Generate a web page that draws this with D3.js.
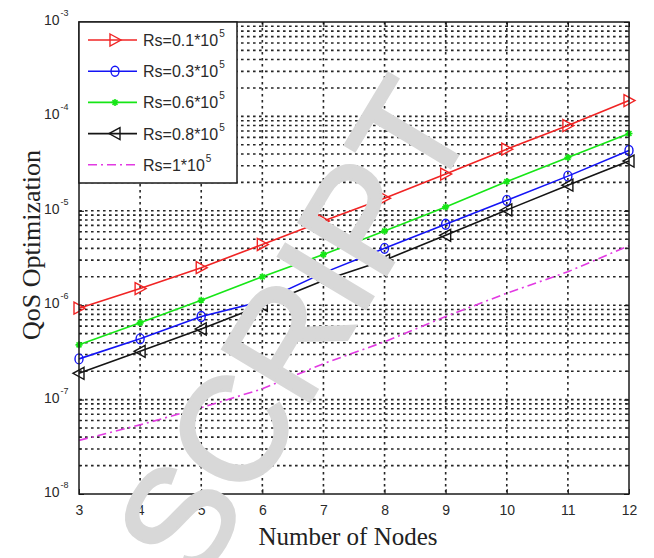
<!DOCTYPE html>
<html><head><meta charset="utf-8">
<script src="https://cdn.jsdelivr.net/npm/d3@7"></script>
<style>body{margin:0;background:#fff}svg{display:block}</style>
</head><body><svg id="c" width="654" height="558"></svg>
<script>
// ---- data ----
const nodes = [3, 4, 5, 6, 7, 8, 9, 10, 11, 12];
const rs01 = [9.3e-7, 1.5e-6, 2.5e-6, 4.4e-6, 7.8e-6, 1.36e-5, 2.45e-5, 4.5e-5, 8.0e-5, 1.47e-4];
const rs03 = [2.7e-7, 4.4e-7, 7.6e-7, 1.1e-6, 2.2e-6, 4.0e-6, 7.2e-6, 1.29e-5, 2.33e-5, 4.35e-5];
const rs06 = [3.8e-7, 6.5e-7, 1.13e-6, 2.0e-6, 3.45e-6, 6.1e-6, 1.1e-5, 2.04e-5, 3.66e-5, 6.6e-5];
const rs08 = [1.9e-7, 3.25e-7, 5.6e-7, 1.0e-6, 1.83e-6, 3.0e-6, 5.5e-6, 1.02e-5, 1.87e-5, 3.36e-5];
const rs10 = [3.7e-8, 5.4e-8, 8.2e-8, 1.3e-7, 2.4e-7, 4.1e-7, 7.6e-7, 1.34e-6, 2.26e-6, 4.27e-6];
const legendBase = ["Rs=0.1*10", "Rs=0.3*10", "Rs=0.6*10", "Rs=0.8*10", "Rs=1*10"];
const legendSup = ["5", "5", "5", "5", "5"];
const yTickExponents = [-3, -4, -5, -6, -7, -8];
const xTitle = "Number of Nodes";
const yTitle = "QoS Optimization";
const watermark = "SCRIPT";

// ---- setup ----
const svg = d3.select("#c");
const M = {l: 79, r: 629, t: 22, b: 494};
const x = d3.scaleLinear().domain([3, 12]).range([M.l, M.r]);
const y = d3.scaleLog().domain([1e-8, 1e-3]).range([M.b, M.t]);

const series = [
  {vals: rs01, color: "#f02424", marker: "right", dash: null},
  {vals: rs03, color: "#1414f5", marker: "circle", dash: null},
  {vals: rs06, color: "#16e616", marker: "star", dash: null},
  {vals: rs08, color: "#151515", marker: "left", dash: null},
  {vals: rs10, color: "#e23ae2", marker: null, dash: "9,4,2,4"}
];

// ---- grid ----
const gridVals = y.ticks().filter(v => v > 1.0001e-8 && v < 0.9999e-3);
const grid = svg.append("g");
grid.selectAll("line.h").data(gridVals).join("line").attr("class", "h")
  .attr("x1", M.l).attr("x2", M.r).attr("y1", d => y(d)).attr("y2", d => y(d))
  .attr("stroke", "#262626").attr("stroke-width", 1.6).attr("stroke-dasharray", "2.6,3.4");
grid.selectAll("line.v").data(nodes.slice(1, -1)).join("line").attr("class", "v")
  .attr("x1", d => x(d)).attr("x2", d => x(d)).attr("y1", M.t).attr("y2", M.b)
  .attr("stroke", "#262626").attr("stroke-width", 1.6).attr("stroke-dasharray", "2.6,3.4");

// ---- axes ----
const xAxis = d3.axisBottom(x).tickValues(nodes).tickSizeInner(-5).tickSizeOuter(0).tickPadding(11);
const gx = svg.append("g").attr("transform", `translate(0,${M.b})`).call(xAxis);
gx.select(".domain").remove();
gx.selectAll("text").attr("font-family", "Liberation Sans, Arial, sans-serif").attr("font-size", 14).attr("fill", "#2a2a2a");
gx.selectAll("line").attr("stroke", "#222");
const xAxisTop = d3.axisTop(x).tickValues(nodes).tickSizeInner(-5).tickSizeOuter(0).tickFormat(() => "");
const gxt = svg.append("g").attr("transform", `translate(0,${M.t})`).call(xAxisTop);
gxt.select(".domain").remove();

const yAxis = d3.axisLeft(y).tickValues(yTickExponents.map(e => Math.pow(10, e))).tickSizeInner(-5).tickSizeOuter(0).tickFormat(() => "");
const gy = svg.append("g").attr("transform", `translate(${M.l},0)`).call(yAxis);
gy.select(".domain").remove();
const yAxisR = d3.axisRight(y).tickValues(yTickExponents.map(e => Math.pow(10, e))).tickSizeInner(-5).tickSizeOuter(0).tickFormat(() => "");
const gyr = svg.append("g").attr("transform", `translate(${M.r},0)`).call(yAxisR);
gyr.select(".domain").remove();
// minor ticks
const minor = svg.append("g");
minor.selectAll("line.ml").data(gridVals).join("line").attr("x1", M.l).attr("x2", M.l + 3)
  .attr("y1", d => y(d)).attr("y2", d => y(d)).attr("stroke", "#222");
minor.selectAll("line.mr").data(gridVals).join("line").attr("x1", M.r).attr("x2", M.r - 3)
  .attr("y1", d => y(d)).attr("y2", d => y(d)).attr("stroke", "#222");

// y tick labels 10^e
const yl = svg.append("g").attr("font-family", "Liberation Sans, Arial, sans-serif").attr("fill", "#2a2a2a");
yTickExponents.forEach(e => {
  const t = yl.append("text").attr("x", 44).attr("y", y(Math.pow(10, e)) + 3).attr("font-size", 14);
  t.append("tspan").text("10");
  t.append("tspan").attr("font-size", 9).attr("dy", -9).attr("dx", 1).text(String(e));
});

// ---- lines ----
const line = d3.line().x((d, i) => x(nodes[i])).y(d => y(d));
const gl = svg.append("g");
series.forEach(s => {
  gl.append("path").datum(s.vals).attr("d", line).attr("fill", "none")
    .attr("stroke", s.color).attr("stroke-width", 1.6)
    .attr("stroke-dasharray", s.dash);
});

function drawMarker(g, type, cx, cy, color) {
  if (type === "right") {
    g.append("path").attr("d", `M${cx - 5},${cy - 6}L${cx + 6},${cy}L${cx - 5},${cy + 6}Z`)
      .attr("fill", "none").attr("stroke", color).attr("stroke-width", 1.4);
  } else if (type === "left") {
    g.append("path").attr("d", `M${cx + 5},${cy - 6}L${cx - 6},${cy}L${cx + 5},${cy + 6}Z`)
      .attr("fill", "none").attr("stroke", color).attr("stroke-width", 1.4);
  } else if (type === "circle") {
    g.append("ellipse").attr("cx", cx).attr("cy", cy).attr("rx", 4).attr("ry", 5)
      .attr("fill", "none").attr("stroke", color).attr("stroke-width", 1.4);
  } else if (type === "star") {
    const r = 3.5;
    g.append("path").attr("d",
      `M${cx - r},${cy}L${cx + r},${cy}M${cx},${cy - r}L${cx},${cy + r}` +
      `M${cx - r * .7},${cy - r * .7}L${cx + r * .7},${cy + r * .7}M${cx - r * .7},${cy + r * .7}L${cx + r * .7},${cy - r * .7}`)
      .attr("stroke", color).attr("stroke-width", 1.6);
    g.append("circle").attr("cx", cx).attr("cy", cy).attr("r", 1.8).attr("fill", color);
  }
}
const gm = svg.append("g");
series.forEach(s => {
  if (!s.marker) return;
  s.vals.forEach((v, i) => drawMarker(gm, s.marker, x(nodes[i]), y(v), s.color));
});

// ---- box ----
svg.append("rect").attr("x", M.l).attr("y", M.t).attr("width", M.r - M.l).attr("height", M.b - M.t)
  .attr("fill", "none").attr("stroke", "#1a1a1a").attr("stroke-width", 1.5);

// ---- legend ----
const lg = svg.append("g");
lg.append("rect").attr("x", M.l).attr("y", M.t).attr("width", 158).attr("height", 161)
  .attr("fill", "#fff").attr("stroke", "#1a1a1a").attr("stroke-width", 1.5);
series.forEach((s, i) => {
  const cy = 40 + i * 31.2;
  lg.append("line").attr("x1", 88).attr("x2", 137).attr("y1", cy).attr("y2", cy)
    .attr("stroke", s.color).attr("stroke-width", 1.6).attr("stroke-dasharray", s.dash);
  if (s.marker) drawMarker(lg, s.marker, 115, cy, s.color);
  const t = lg.append("text").attr("x", 143).attr("y", cy + 6)
    .attr("font-family", "Liberation Sans, Arial, sans-serif").attr("font-size", 16).attr("fill", "#2a2a2a");
  t.append("tspan").text(legendBase[i]);
  t.append("tspan").attr("font-size", 10).attr("dy", -9).attr("dx", 1).text(legendSup[i]);
});

// ---- titles ----
svg.append("text").attr("x", 348).attr("y", 545).attr("text-anchor", "middle")
  .attr("font-family", "Liberation Serif, Times New Roman, serif").attr("font-size", 25).attr("fill", "#222").text(xTitle);
svg.append("text").attr("transform", "translate(40,245) rotate(-90)").attr("text-anchor", "middle")
  .attr("font-family", "Liberation Serif, Times New Roman, serif").attr("font-size", 26).attr("fill", "#222").text(yTitle);

// ---- watermark ----
svg.append("text").attr("transform", "translate(292,328) rotate(-59)").attr("text-anchor", "middle")
  .attr("dy", "0.36em").attr("font-family", "Liberation Sans, Arial, sans-serif").attr("font-size", 148)
  .attr("fill", "#d8d8d8").attr("stroke", "#d8d8d8").attr("stroke-width", 3).text(watermark);
</script>
</body></html>
